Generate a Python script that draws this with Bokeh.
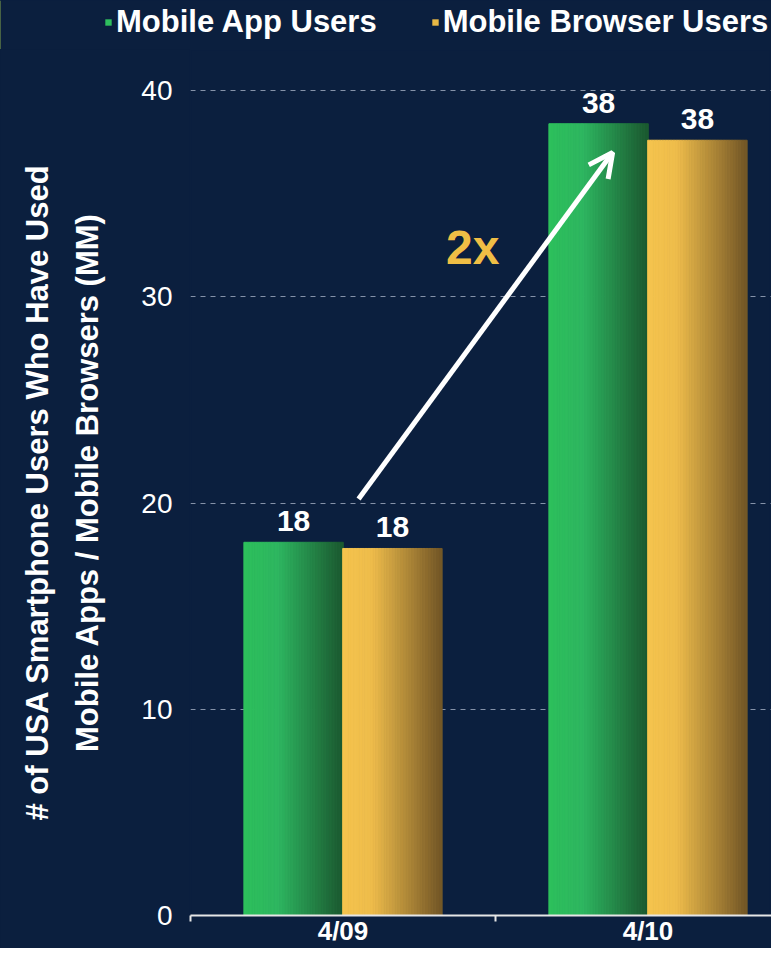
from bokeh.plotting import figure
from bokeh.layouts import column
from bokeh.models import (ColumnDataSource, FixedTicker, Legend, LegendItem, Label,
                          Arrow, OpenHead, Title, Range1d)
from bokeh.embed import file_html
from bokeh.resources import INLINE

# ---- data ----
periods = ["4/09", "4/10"]
app_users = [18.1, 38.4]
browser_users = [17.8, 37.6]
app_labels = ["18", "38"]
browser_labels = ["18", "38"]
series_names = ["Mobile App Users", "Mobile Browser Users"]
y_ticks = [0, 10, 20, 30, 40]
arrow_start = (0.551, 20.2)
arrow_end = (1.384, 37.0)
growth_label = "2x"
growth_pos = (0.925, 32.4)
title_line1 = "# of USA Smartphone Users Who Have Used"
title_line2 = "Mobile Apps / Mobile Browsers (MM)"

BG = "#0b1f3e"
GREEN_STOPS = [(0.0, (0x2d, 0xc0, 0x5c)), (0.35, (0x2e, 0xb6, 0x60)), (1.0, (0x1b, 0x58, 0x30))]
GOLD_STOPS = [(0.0, (0xf5, 0xc4, 0x4e)), (0.3, (0xee, 0xbc, 0x4b)), (1.0, (0x72, 0x56, 0x26))]

def grad(stops, t):
    for (t0, c0), (t1, c1) in zip(stops[:-1], stops[1:]):
        if t <= t1:
            f = (t - t0) / (t1 - t0) if t1 > t0 else 0
            c = [int(round(a + (b - a) * f)) for a, b in zip(c0, c1)]
            return "#%02x%02x%02x" % tuple(c)
    return "#%02x%02x%02x" % stops[-1][1]

BAR_W = 0.326
OFFSET = 0.162
N = 36
LEFT = 190

# ---- legend strip (separate figure on top) ----
lg = figure(width=771, height=49, output_backend="svg", toolbar_location=None,
            x_range=Range1d(0, 1), y_range=Range1d(0, 1),
            x_axis_location=None, y_axis_location=None,
            min_border_left=0, min_border_right=0, min_border_top=0, min_border_bottom=0,
            background_fill_color=BG, border_fill_color=BG, outline_line_color=None)
lg.frame_align = False
lg.grid.visible = False
r1 = lg.vbar(x=[-1], top=[1], width=0.1, fill_color="#2fbf5e", line_color=None)
r2 = lg.vbar(x=[-1], top=[1], width=0.1, fill_color="#e8b845", line_color=None)
legend = Legend(items=[LegendItem(label=series_names[0], renderers=[r1]),
                       LegendItem(label=series_names[1], renderers=[r2])],
                orientation="horizontal", location=(104, 9),
                glyph_width=8, glyph_height=8, label_standoff=4, spacing=54,
                padding=0, margin=0, background_fill_alpha=0, border_line_alpha=0,
                label_text_color="white", label_text_font_size="31px",
                label_text_font_style="bold", label_text_font="Liberation Sans")
lg.add_layout(legend, "center")

# ---- main chart ----
p = figure(width=771, height=899, output_backend="svg", toolbar_location=None,
           x_range=Range1d(0, (771 - LEFT) / 305), y_range=Range1d(0, 42),
           min_border_left=LEFT, min_border_right=0, min_border_top=0, min_border_bottom=31,
           background_fill_color=BG, border_fill_color=BG,
           outline_line_color=BG, outline_line_width=2)

def strips(values, off, stops):
    xs, tops, cols = [], [], []
    sw = BAR_W / N
    for i, v in enumerate(values):
        c = i + 0.5 + off
        for k in range(N):
            t = (k + 0.5) / N
            xs.append(c - BAR_W / 2 + sw * (k + 0.5))
            tops.append(v)
            cols.append(grad(stops, t))
    return ColumnDataSource(dict(x=xs, top=tops, color=cols)), sw

src_a, sw = strips(app_users, -OFFSET, GREEN_STOPS)
src_b, _ = strips(browser_users, OFFSET, GOLD_STOPS)
p.vbar(x="x", top="top", bottom=0, width=sw, fill_color="color", line_color="color",
       line_width=1, source=src_a)
p.vbar(x="x", top="top", bottom=0, width=sw, fill_color="color", line_color="color",
       line_width=1, source=src_b)

# value labels
lab = ColumnDataSource(dict(
    x=[i + 0.5 - OFFSET for i in range(len(periods))] + [i + 0.5 + OFFSET for i in range(len(periods))],
    y=app_users + browser_users,
    t=app_labels + browser_labels))
p.text(x="x", y="y", text="t", source=lab, text_align="center", text_baseline="bottom",
       y_offset=-11, text_color="white", text_font_size="30px", text_font_style="bold",
       text_font={"value": "Liberation Sans"})

# arrow and 2x
p.add_layout(Arrow(end=OpenHead(line_color="white", line_width=5, size=24),
                   x_start=arrow_start[0], y_start=arrow_start[1],
                   x_end=arrow_end[0], y_end=arrow_end[1],
                   line_color="white", line_width=5))
p.add_layout(Label(x=growth_pos[0], y=growth_pos[1], text=growth_label, text_align="center",
                   text_baseline="middle", text_color="#f0be45", text_font_size="48px",
                   text_font_style="bold", text_font="Liberation Sans"))

# axes
p.xaxis.ticker = FixedTicker(ticks=[0.5, 1.5], minor_ticks=[0, 1, 2])
p.xaxis.major_label_overrides = {0.5: periods[0], 1.5: periods[1]}
p.xaxis.major_tick_line_color = None
p.xaxis.major_tick_out = 0
p.xaxis.major_tick_in = 0
p.xaxis.minor_tick_line_color = "#e6e6e6"
p.xaxis.minor_tick_line_width = 2
p.xaxis.minor_tick_in = 0
p.xaxis.minor_tick_out = 6
p.xaxis.axis_line_color = "#e6e6e6"
p.xaxis.axis_line_width = 2
p.xaxis.major_label_text_color = "white"
p.xaxis.major_label_text_font_size = "26px"
p.xaxis.major_label_text_font_style = "bold"
p.xaxis.major_label_text_font = "Liberation Sans"
p.xaxis.major_label_standoff = -6

p.yaxis.ticker = FixedTicker(ticks=y_ticks)
p.yaxis.axis_line_color = None
p.yaxis.major_tick_line_color = None
p.yaxis.major_tick_out = 0
p.yaxis.major_tick_in = 0
p.yaxis.minor_tick_line_color = None
p.yaxis.major_label_text_color = "white"
p.yaxis.major_label_text_font_size = "28px"
p.yaxis.major_label_text_font = "Liberation Sans"
p.yaxis.major_label_standoff = 18
p.yaxis.axis_label = title_line2
p.yaxis.axis_label_text_color = "white"
p.yaxis.axis_label_text_font_size = "31px"
p.yaxis.axis_label_text_font_style = "bold"
p.yaxis.axis_label_text_font = "Liberation Sans"
p.yaxis.axis_label_standoff = 33

p.xgrid.grid_line_color = None
p.ygrid.ticker = FixedTicker(ticks=y_ticks[1:])
p.ygrid.grid_line_color = "#8592a8"
p.ygrid.grid_line_dash = "5 5"
p.ygrid.grid_line_width = 1

p.add_layout(Title(text=title_line1, align="left", text_color="white", text_font_size="31px",
                   text_font_style="bold", text_font="Liberation Sans", standoff=26, offset=95), "left")

layout = column(lg, p, spacing=0, styles={"background-color": BG})
open("out.html", "w").write(file_html(layout, INLINE))
